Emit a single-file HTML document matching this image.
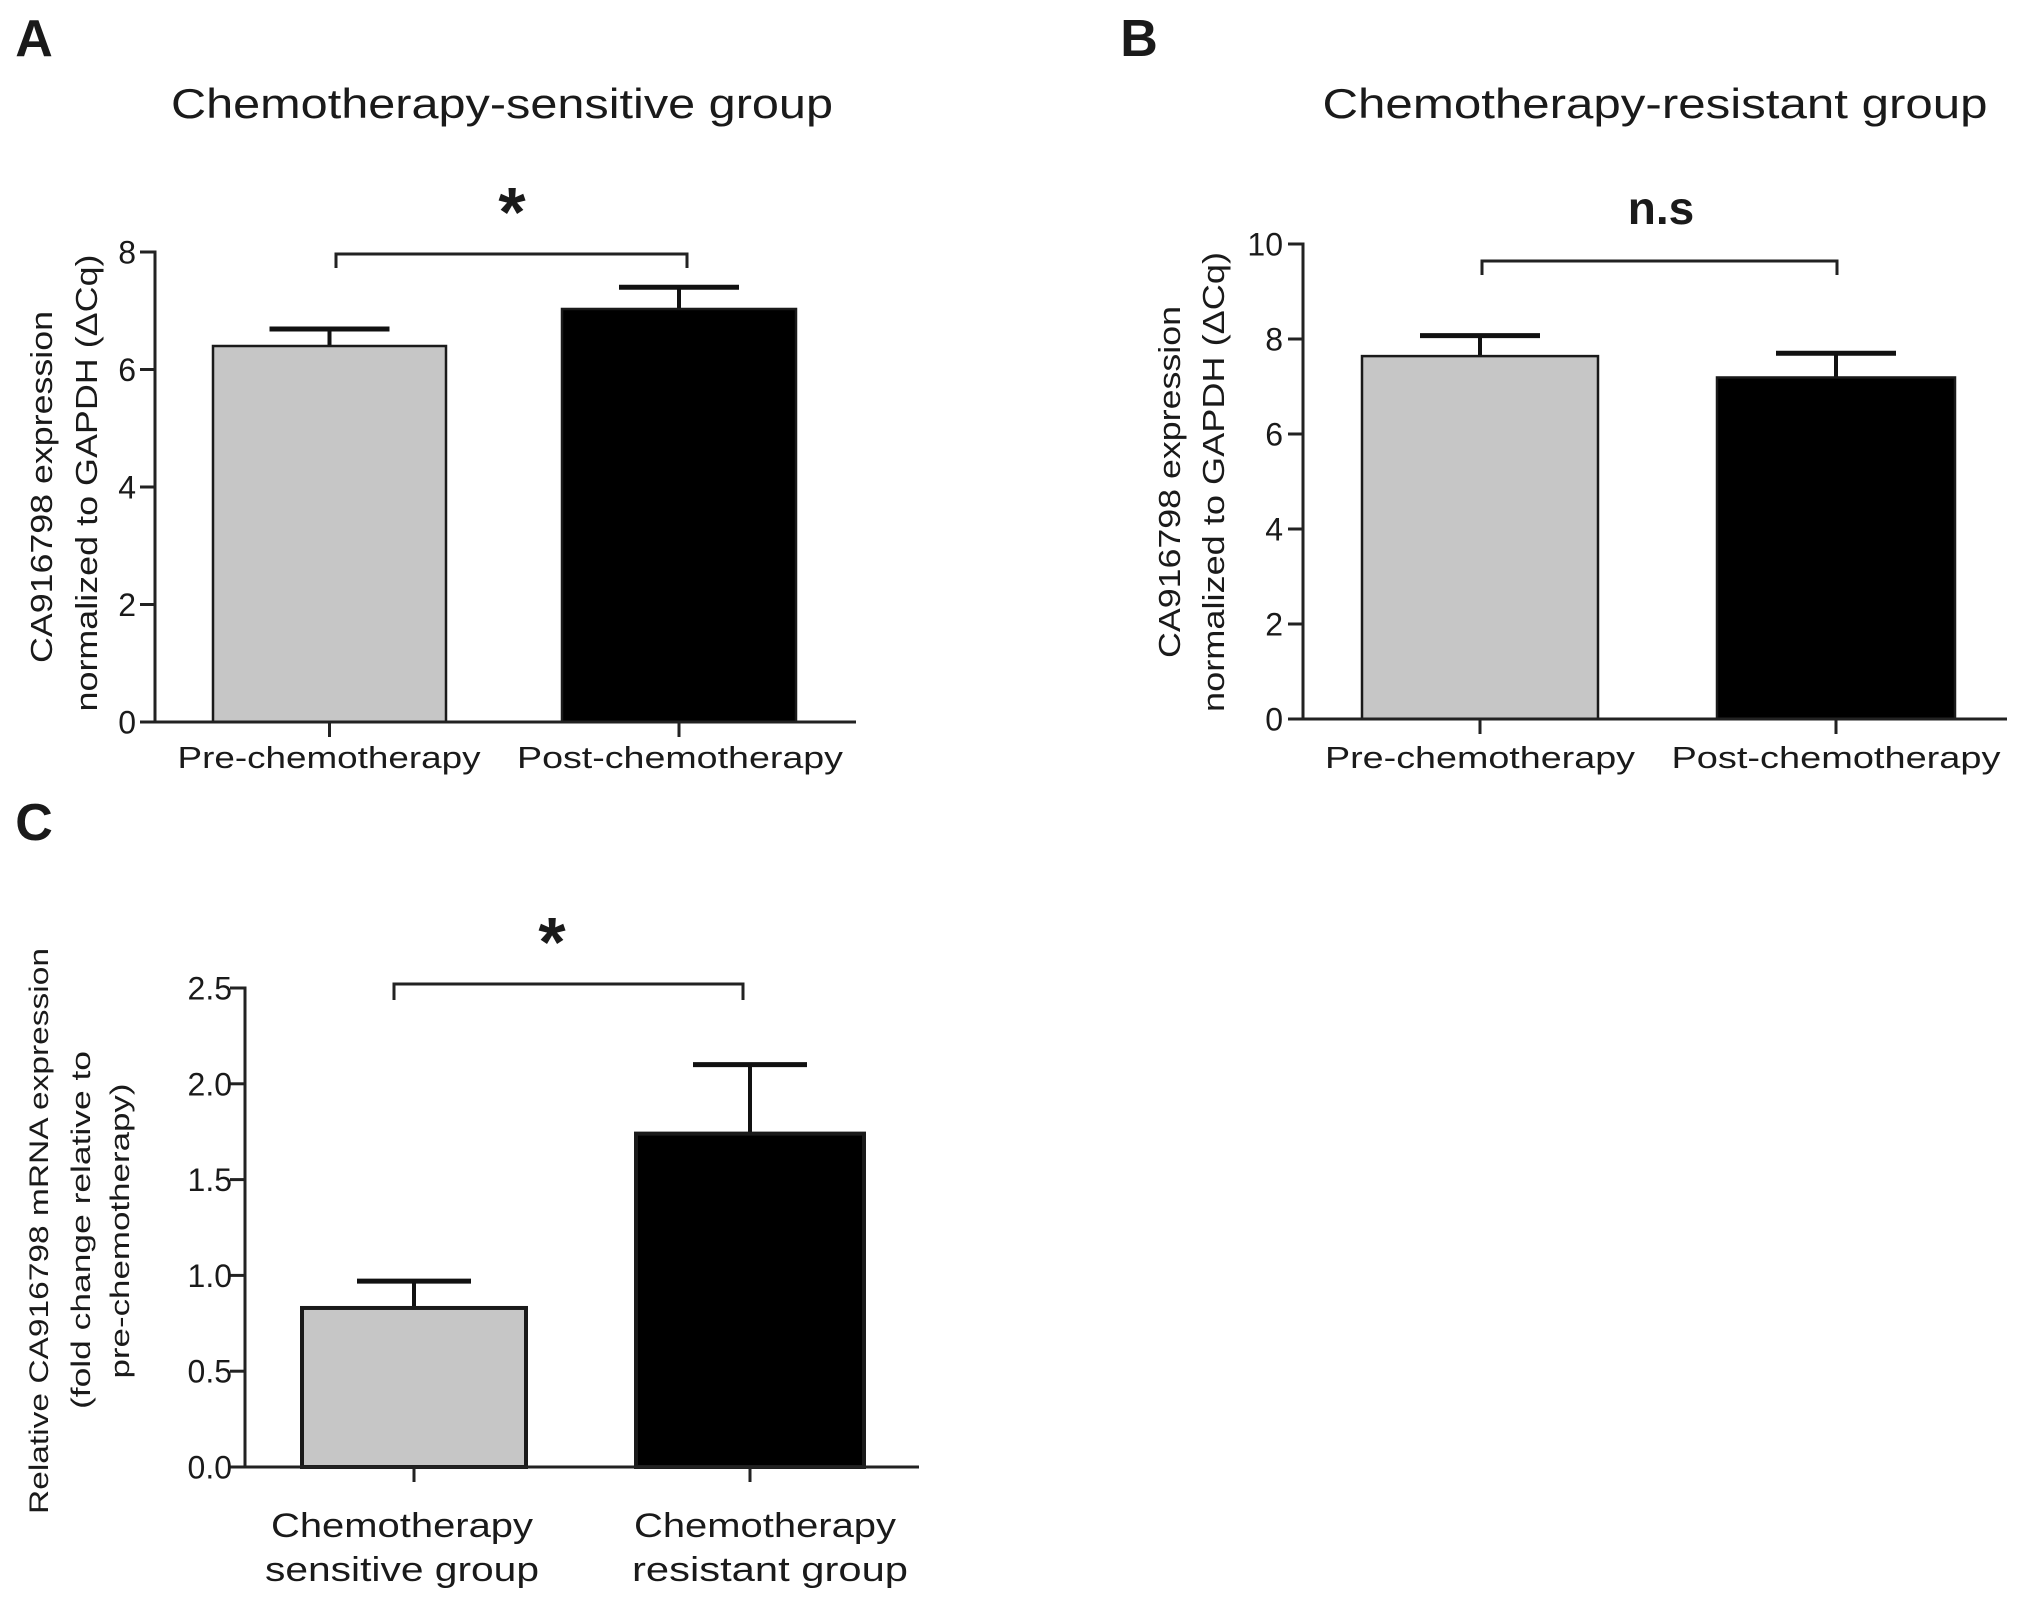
<!DOCTYPE html>
<html><head><meta charset="utf-8"><style>
html,body{margin:0;padding:0;background:#fff}
svg{display:block}
text{font-family:"Liberation Sans",sans-serif;fill:#1a1a1a}
</style></head><body>
<svg id="fig" width="2031" height="1603" viewBox="0 0 2031 1603" xmlns="http://www.w3.org/2000/svg"></svg>
<script>
// Panel A data
const aCategories = ["Pre-chemotherapy", "Post-chemotherapy"];
const aValues = [6.40, 7.03];
const aErrors = [0.29, 0.37];
const aTicks = [0, 2, 4, 6, 8];
// Panel B data
const bCategories = ["Pre-chemotherapy", "Post-chemotherapy"];
const bValues = [7.64, 7.19];
const bErrors = [0.43, 0.51];
const bTicks = [0, 2, 4, 6, 8, 10];
// Panel C data
const cCategories = [["Chemotherapy", "sensitive group"], ["Chemotherapy", "resistant group"]];
const cValues = [0.83, 1.74];
const cErrors = [0.14, 0.36];
const cTicks = ["0.0", "0.5", "1.0", "1.5", "2.0", "2.5"];

const NS = "http://www.w3.org/2000/svg";
const svg = document.getElementById("fig");
function mk(tag, attrs, parent, txt) {
  const e = document.createElementNS(NS, tag);
  for (const k in attrs) e.setAttribute(k, attrs[k]);
  if (txt !== undefined) e.textContent = txt;
  (parent || svg).appendChild(e);
  return e;
}

function panel(cfg) {
  const g = mk("g", {});
  
  
  const y = v => cfg.y0 - (v - cfg.min) / (cfg.max - cfg.min) * (cfg.y0 - cfg.yTop);
  const lw = cfg.lw;
  cfg.values.forEach((v, i) => {
    const x0 = cfg.barX[i][0], x1 = cfg.barX[i][1], cx = (x0 + x1) / 2;
    const top = y(v), et = y(v + cfg.errors[i]);
    const ln = mk("line", {x1: cx, x2: cx, y1: top, y2: et, stroke: "#111", "stroke-width": 4}, g);
    
    
    const cap = mk("line", {x1: cx - cfg.cap, x2: cx + cfg.cap, y1: et, y2: et, stroke: "#111", "stroke-width": 5}, g);
    
    
    const r = mk("rect", {x: x0, y: top, width: x1 - x0, height: cfg.y0 - top, fill: i === 0 ? "#c6c6c6" : "#000", stroke: "#1a1a1a", "stroke-width": lw}, g);
    
    
    const t = mk("line", {x1: cx, x2: cx, y1: cfg.y0, y2: cfg.y0 + 15, stroke: "#222", "stroke-width": 3}, g);
    
    
  });
  const ya = mk("line", {x1: cfg.ax, x2: cfg.ax, y1: cfg.yTop - 1.5, y2: cfg.y0, stroke: "#222", "stroke-width": 3}, g);
  
  
  const xa = mk("line", {x1: cfg.ax - 15, x2: cfg.xEnd, y1: cfg.y0, y2: cfg.y0, stroke: "#222", "stroke-width": 3}, g);
  
  
  cfg.ticks.forEach(tk => {
    const v = parseFloat(tk), yy = y(v);
    const t = mk("line", {x1: cfg.ax - 15, x2: cfg.ax, y1: yy, y2: yy, stroke: "#222", "stroke-width": 3}, g);
    
    
    const l = mk("text", {x: cfg.tickRight, y: yy + cfg.tickFs * 0.36, "text-anchor": "end", "font-size": cfg.tickFs}, g, String(tk));
    
    
  });
  const b = cfg.bracket;
  const br = mk("path", {d: `M${b[0]},${b[3]} V${b[2]} H${b[1]} V${b[3]}`, fill: "none", stroke: "#222", "stroke-width": 3}, g);
  
  
  const s = mk("text", {x: cfg.sig[0], y: cfg.sig[1], "text-anchor": "middle", "font-size": cfg.sig[2], "font-weight": "bold"}, g, cfg.sig[3]);
  
  
  return g;
}

function txt(x, y, s, fs, name, extra) {
  const a = Object.assign({x: x, y: y, "font-size": fs, "text-anchor": "middle"}, extra || {});
  const t = mk("text", a, svg, s);
  
  
  return t;
}

// Panel A
panel({name: "panel-a-chart", min: 0, max: 8, y0: 722, yTop: 252, ax: 155, xEnd: 856, values: aValues, errors: aErrors,
  barX: [[213, 446], [562, 796]], cap: 60, lw: 2.5, ticks: aTicks, tickRight: 136, tickFs: 32,
  bracket: [336, 687, 254, 268], sig: [512, 236, 70, "*"]});
txt(34, 56, "A", 52, "panel-a-label", {"font-weight": "bold"});
txt(502, 118, "Chemotherapy-sensitive group", 42, "panel-a-title", {textLength: 662, lengthAdjust: "spacingAndGlyphs"});
txt(329, 768, aCategories[0], 31, "x-label-pre", {textLength: 303, lengthAdjust: "spacingAndGlyphs"});
txt(680, 768, aCategories[1], 31, "x-label-post", {textLength: 326, lengthAdjust: "spacingAndGlyphs"});
txt(0, 0, "CA916798 expression", 31, "y-axis-title-line1", {transform: "translate(52,487) rotate(-90)", textLength: 352, lengthAdjust: "spacingAndGlyphs"});
txt(0, 0, "normalized to GAPDH (ΔCq)", 31, "y-axis-title-line2", {transform: "translate(97,483) rotate(-90)", textLength: 457, lengthAdjust: "spacingAndGlyphs"});

// Panel B
panel({name: "panel-b-chart", min: 0, max: 10, y0: 719, yTop: 244, ax: 1303, xEnd: 2007, values: bValues, errors: bErrors,
  barX: [[1362, 1598], [1717, 1955]], cap: 60, lw: 2.5, ticks: bTicks, tickRight: 1283, tickFs: 32,
  bracket: [1482, 1837, 261, 275], sig: [1661, 224, 46, "n.s"]});
txt(1139, 56, "B", 52, "panel-b-label", {"font-weight": "bold"});
txt(1655, 118, "Chemotherapy-resistant group", 42, "panel-b-title", {textLength: 665, lengthAdjust: "spacingAndGlyphs"});
txt(1480, 768, bCategories[0], 31, "x-label-pre", {textLength: 310, lengthAdjust: "spacingAndGlyphs"});
txt(1836, 768, bCategories[1], 31, "x-label-post", {textLength: 329, lengthAdjust: "spacingAndGlyphs"});
txt(0, 0, "CA916798 expression", 31, "y-axis-title-line1", {transform: "translate(1180,482) rotate(-90)", textLength: 352, lengthAdjust: "spacingAndGlyphs"});
txt(0, 0, "normalized to GAPDH (ΔCq)", 31, "y-axis-title-line2", {transform: "translate(1224,482) rotate(-90)", textLength: 460, lengthAdjust: "spacingAndGlyphs"});

// Panel C
panel({name: "panel-c-chart", min: 0, max: 2.5, y0: 1467, yTop: 988, ax: 245, xEnd: 919, values: cValues, errors: cErrors,
  barX: [[302, 526], [636, 864]], cap: 57, lw: 4, ticks: cTicks, tickRight: 232, tickFs: 32,
  bracket: [394, 743, 984, 1000], sig: [552, 966, 70, "*"]});
txt(34, 840, "C", 52, "panel-c-label", {"font-weight": "bold"});
txt(402, 1537, cCategories[0][0], 34, "x-label-sensitive-line1", {textLength: 262, lengthAdjust: "spacingAndGlyphs"});
txt(402, 1581, cCategories[0][1], 34, "x-label-sensitive-line2", {textLength: 274, lengthAdjust: "spacingAndGlyphs"});
txt(765, 1537, cCategories[1][0], 34, "x-label-resistant-line1", {textLength: 262, lengthAdjust: "spacingAndGlyphs"});
txt(770, 1581, cCategories[1][1], 34, "x-label-resistant-line2", {textLength: 276, lengthAdjust: "spacingAndGlyphs"});
txt(0, 0, "Relative CA916798 mRNA expression", 27, "y-axis-title-line1", {transform: "translate(48,1231) rotate(-90)", textLength: 566, lengthAdjust: "spacingAndGlyphs"});
txt(0, 0, "(fold change relative to", 27, "y-axis-title-line2", {transform: "translate(90,1230) rotate(-90)", textLength: 358, lengthAdjust: "spacingAndGlyphs"});
txt(0, 0, "pre-chemotherapy)", 27, "y-axis-title-line3", {transform: "translate(129,1231) rotate(-90)", textLength: 295, lengthAdjust: "spacingAndGlyphs"});
</script>
</body></html>
